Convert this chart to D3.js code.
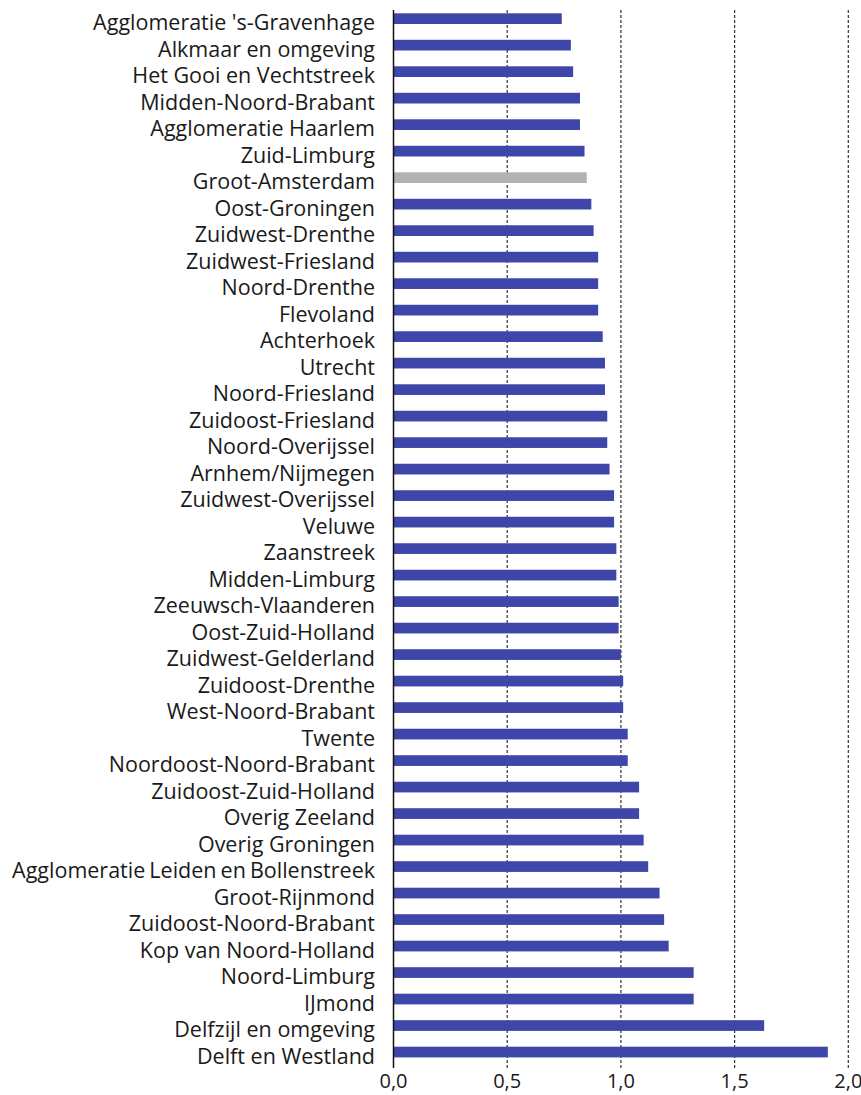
<!DOCTYPE html>
<html>
<head>
<meta charset="utf-8">
<script src="https://cdn.jsdelivr.net/npm/d3@7"></script>
<style>
html,body{margin:0;padding:0;background:#fff;}
svg{display:block;}
text{font-family:"Open Sans",sans-serif;fill:#1a1a1a;}
</style>
</head>
<body>
<div id="chart"></div>
<script>
const categories = [
"Agglomeratie 's-Gravenhage","Alkmaar en omgeving","Het Gooi en Vechtstreek","Midden-Noord-Brabant",
"Agglomeratie Haarlem","Zuid-Limburg","Groot-Amsterdam","Oost-Groningen","Zuidwest-Drenthe",
"Zuidwest-Friesland","Noord-Drenthe","Flevoland","Achterhoek","Utrecht","Noord-Friesland",
"Zuidoost-Friesland","Noord-Overijssel","Arnhem/Nijmegen","Zuidwest-Overijssel","Veluwe",
"Zaanstreek","Midden-Limburg","Zeeuwsch-Vlaanderen","Oost-Zuid-Holland","Zuidwest-Gelderland",
"Zuidoost-Drenthe","West-Noord-Brabant","Twente","Noordoost-Noord-Brabant","Zuidoost-Zuid-Holland",
"Overig Zeeland","Overig Groningen","Agglomeratie Leiden en Bollenstreek","Groot-Rijnmond",
"Zuidoost-Noord-Brabant","Kop van Noord-Holland","Noord-Limburg","IJmond","Delfzijl en omgeving",
"Delft en Westland"];
const values = [
0.74,0.78,0.79,0.82,0.82,0.84,0.85,0.87,0.88,0.90,0.90,0.90,0.92,0.93,0.93,0.94,0.94,0.95,0.97,0.97,
0.98,0.98,0.99,0.99,1.00,1.01,1.01,1.03,1.03,1.08,1.08,1.10,1.12,1.17,1.19,1.21,1.32,1.32,1.63,1.91];
const highlighted = ["Groot-Amsterdam"];
const tickValues = [0,0.5,1.0,1.5,2.0];
const tickLabels = ["0,0","0,5","1,0","1,5","2,0"];

const W = 861, H = 1095;
const svg = d3.select("#chart").append("svg").attr("width",W).attr("height",H);

const x = d3.scaleLinear().domain([0,2]).range([393.5,848.3]);
const y = d3.scaleBand().domain(categories).range([13.3,1057.4]).paddingInner(0.596).paddingOuter(0);
const axisTop = 10, axisBottom = 1068;

// gridlines
svg.append("g").selectAll("line").data(tickValues.filter(d=>d>0)).join("line")
  .attr("x1",d=>x(d)).attr("x2",d=>x(d)).attr("y1",axisTop).attr("y2",axisBottom)
  .attr("stroke","#333").attr("stroke-width",1.2).attr("stroke-dasharray","3,2");

// bars
svg.append("g").selectAll("rect").data(categories).join("rect")
  .attr("x",x(0)).attr("y",d=>y(d))
  .attr("width",(d,i)=>x(values[i])-x(0))
  .attr("height",y.bandwidth())
  .attr("fill",d=>highlighted.includes(d)?"#b0b3b6":"#3e46aa");

// axis line at 0
svg.append("line").attr("x1",x(0)).attr("x2",x(0)).attr("y1",axisTop).attr("y2",axisBottom)
  .attr("stroke","#111").attr("stroke-width",1.5);

// category labels
svg.append("g").selectAll("text").data(categories).join("text")
  .attr("x",375).attr("y",d=>y(d)+y.bandwidth()/2+11.5)
  .attr("text-anchor","end").attr("font-size",21.5)
  .attr("word-spacing",d=>d.startsWith("Agglomeratie Leiden")?-1.5:0)
  .text(d=>d);

// tick labels
svg.append("g").selectAll("text").data(tickValues).join("text")
  .attr("x",d=>x(d)).attr("y",1088).attr("text-anchor","middle").attr("font-size",20)
  .text((d,i)=>tickLabels[i]);
</script>
</body>
</html>
